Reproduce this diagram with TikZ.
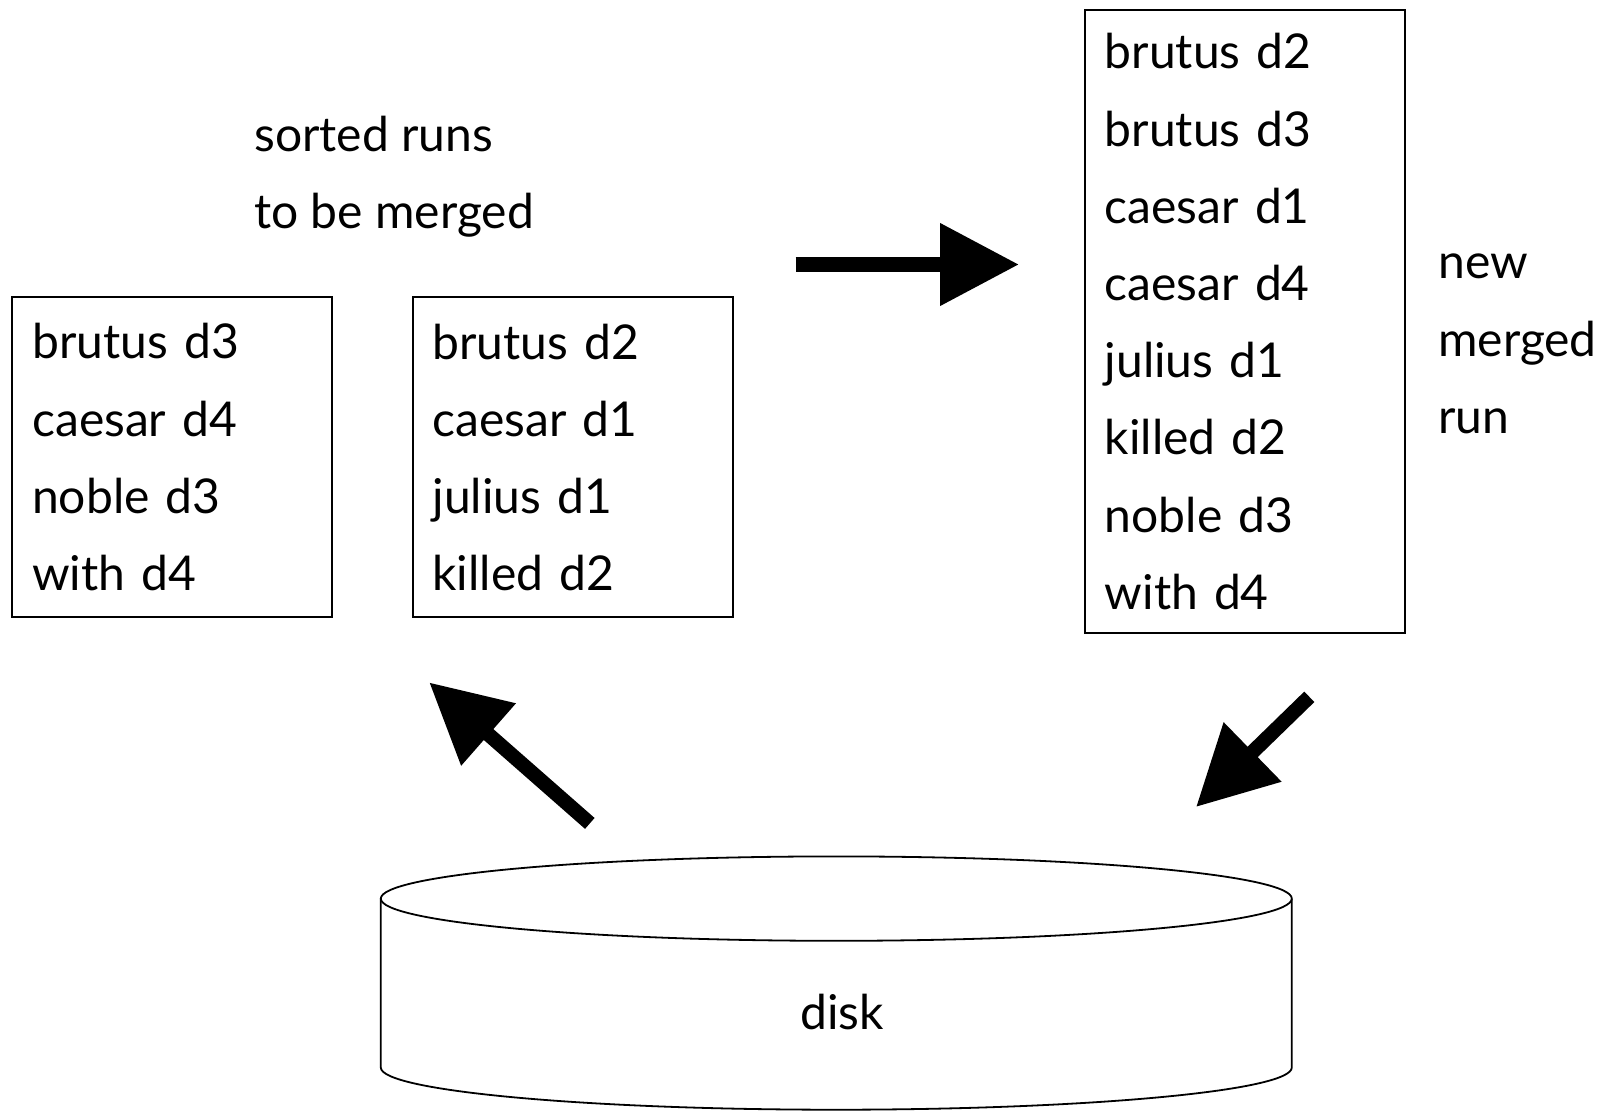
\documentclass[tikz,border=0pt]{standalone}
\usepackage{fontspec}
\setmainfont{Lato}
\usetikzlibrary{arrows.meta}
\begin{document}
\begin{tikzpicture}[x=1pt,y=-1pt,line width=1.8pt,
  run/.style={rectangle, draw=black, anchor=north west, align=left, text width=280pt, inner xsep=20pt, inner ysep=0pt, font=\fontsize{48}{77.2}\selectfont},
  caption/.style={anchor=west, align=left, font=\fontsize{48}{77.2}\selectfont},
  bigarrow/.style={-{Triangle[length=79pt,width=79pt]}, line width=14.5pt}]
\useasboundingbox (0,0) rectangle (1614,1112);

\node (runa) [run, minimum height=320pt] at (11.3,296.4) {brutus d3\\caesar d4\\noble d3\\with d4};
\node (runb) [run, minimum height=320pt] at (411.7,296.4) {brutus d2\\caesar d1\\julius d1\\killed d2};
\node (merged) [run, minimum height=622.7pt] at (1083.9,9.3) {brutus d2\\brutus d3\\caesar d1\\caesar d4\\julius d1\\killed d2\\noble d3\\with d4};

\node (sorted) [caption] at (250,176.5) {sorted runs\\to be merged};
\node (newrun) [caption] at (1434,344) {new\\merged\\run};

% disk
\draw (380.8,898.6) -- (380.8,1067.5) arc[start angle=180, end angle=360, x radius=455.5pt, y radius=42.2pt] -- (1291.8,898.6);
\draw (836.3,898.6) ellipse [x radius=455.5pt, y radius=42.2pt];
\node (disk) [font=\fontsize{48}{55}\selectfont] at (842,1012) {disk};

\coordinate (mergefrom) at (795.7,264.5);
\coordinate (mergeto) at (1019,264.5);
\coordinate (readfrom) at (589.8,823.4);
\coordinate (readto) at (429.2,682.4);
\coordinate (writefrom) at (1309.3,696.8);
\coordinate (writeto) at (1196,807);

\draw[bigarrow] (mergefrom) -- (mergeto);
\draw[bigarrow] (readfrom) -- (readto);
\draw[bigarrow] (writefrom) -- (writeto);

\end{tikzpicture}
\end{document}
